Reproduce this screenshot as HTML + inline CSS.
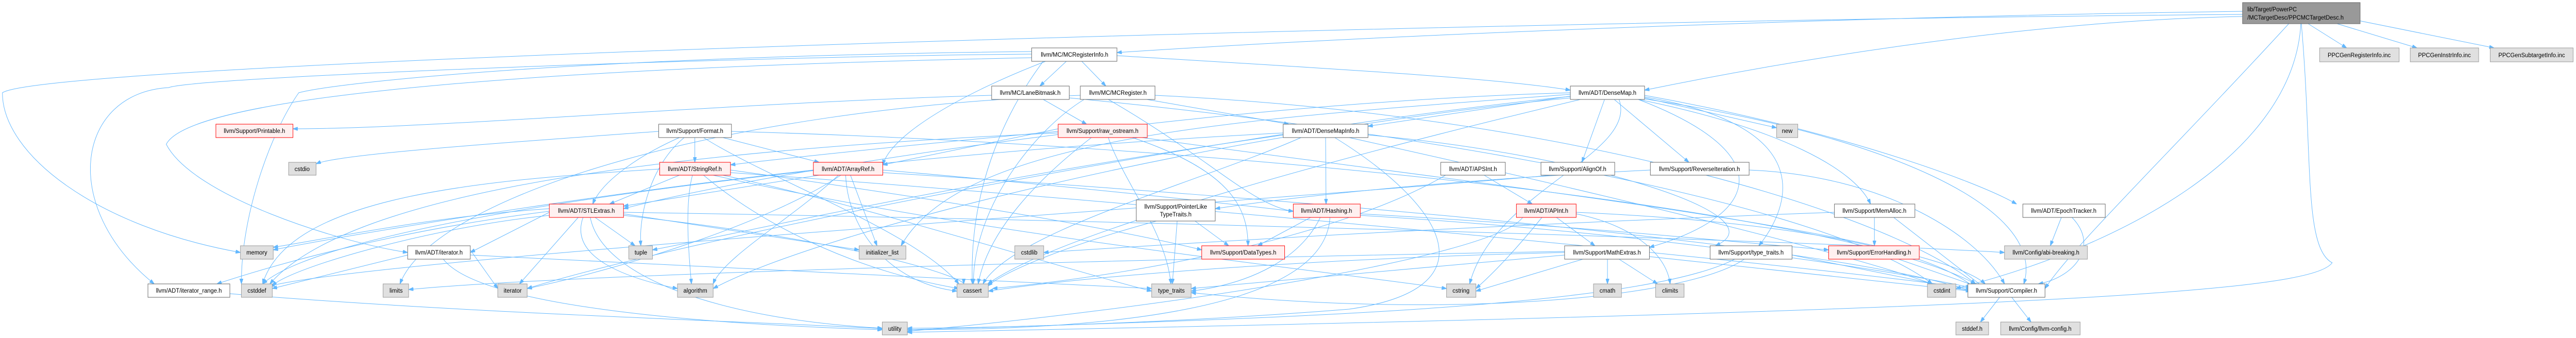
<!DOCTYPE html>
<html><head><meta charset="utf-8"><style>
html,body{margin:0;padding:0;background:#fff;overflow:hidden;width:100%;height:100%;}
svg{display:block;width:100vw;height:100vh;}
text{font-family:"Liberation Sans",Arial,sans-serif;font-size:12px;fill:#000;}
.e{fill:none;stroke:#63b8ff;stroke-width:1;}
.w{fill:#fff;stroke:#666;stroke-width:1;}
.g{fill:#e0e0e0;stroke:#999;stroke-width:1;}
.r{fill:#fff0f0;stroke:#ff0000;stroke-width:1;}
.k{fill:#999;stroke:#666;stroke-width:1;}
</style></head><body>
<svg viewBox="0 0 5346 656" preserveAspectRatio="none" xmlns="http://www.w3.org/2000/svg">
<defs><marker id="a" markerWidth="10" markerHeight="7" refX="10" refY="3.5" orient="auto" markerUnits="userSpaceOnUse"><path d="M0,0 L10,3.5 L0,7 z" fill="#63b8ff" stroke="#63b8ff"/></marker></defs>
<g class="e" marker-end="url(#a)">
<path d="M4790,46 L4870,93"/>
<path d="M4850,46 L5016,93"/>
<path d="M4895,40 L5176,93"/>
<path d="M4654,22 C4000,30 3000,60 2318,102"/>
<path d="M4654,32 C4200,40 3700,120 3413,175"/>
<path d="M4750,46 C4500,300 4300,480 4244,560"/>
<path d="M4775,46 C4760,300 4400,480 4059,560"/>
<path d="M4654,28 C3000,40 100,120 5,180 C5,300 200,440 499,490"/>
<path d="M4776,46 C4800,300 4780,480 4840,510 C4800,560 4400,600 1883,645"/>
<path d="M2213,119 L2158,167"/>
<path d="M2245,119 L2295,167"/>
<path d="M2318,108 C2700,130 3100,150 3259,175"/>
<path d="M2141,105 C1500,110 400,150 350,170 C160,180 120,400 320,551"/>
<path d="M2165,119 C2100,200 2010,350 2018,551"/>
<path d="M2170,119 C2000,180 1850,260 1832,320"/>
<path d="M2141,112 C1200,130 400,180 345,280 C400,380 700,470 846,490"/>
<path d="M2141,100 C1200,110 700,160 620,180 C560,260 500,420 501,551"/>
<path d="M2165,193 L2255,241"/>
<path d="M2219,190 C3000,260 3800,400 4010,551"/>
<path d="M2058,185 C1500,200 900,250 608,250"/>
<path d="M2380,193 L2675,241"/>
<path d="M2300,193 C2500,300 2600,400 2684,410"/>
<path d="M2250,193 C2150,250 2020,400 2020,551"/>
<path d="M2242,185 C1500,210 900,380 830,551"/>
<path d="M2397,185 C3200,220 3900,400 4100,551"/>
<path d="M2350,267 C2550,330 2590,400 2590,477"/>
<path d="M2300,267 C2330,350 2420,450 2430,551"/>
<path d="M2265,267 C2150,350 2050,450 2030,551"/>
<path d="M2196,255 C1900,280 1600,310 1516,320"/>
<path d="M2196,250 L1832,320"/>
<path d="M2370,267 C3000,350 4000,450 4120,551"/>
<path d="M2196,258 C1200,300 700,400 560,551"/>
<path d="M1442,267 L1442,315"/>
<path d="M1500,267 L1700,315"/>
<path d="M1410,267 C1330,300 1250,350 1230,396"/>
<path d="M1420,267 C1350,320 1325,420 1330,477"/>
<path d="M1460,267 C1600,350 1900,450 1990,551"/>
<path d="M1367,255 C1000,280 700,300 656,318"/>
<path d="M1518,255 C2500,280 3800,400 4100,551"/>
<path d="M2751,267 L2752,396"/>
<path d="M2700,267 C2500,350 2100,450 2040,551"/>
<path d="M2663,258 C1800,300 700,420 545,551"/>
<path d="M2800,267 C3200,350 3800,480 4010,551"/>
<path d="M2663,262 C2000,350 1500,460 1354,485"/>
<path d="M2770,267 C3000,400 3100,560 2800,600 C2400,630 2000,637 1883,637"/>
<path d="M2839,262 C3300,300 3700,420 3560,477"/>
<path d="M3270,185 L2839,245"/>
<path d="M3330,193 L3283,315"/>
<path d="M3350,193 L3505,315"/>
<path d="M3413,190 L3687,248"/>
<path d="M3413,185 C3800,250 4100,350 4185,396"/>
<path d="M3400,193 C3700,250 3850,330 3882,396"/>
<path d="M3400,193 C3700,300 3650,420 3423,480"/>
<path d="M3413,188 C3800,250 3700,420 3650,477"/>
<path d="M3259,180 C2500,200 1600,330 1294,405"/>
<path d="M3280,193 C2800,300 2200,450 2050,551"/>
<path d="M3360,193 C3400,300 3100,370 3050,551"/>
<path d="M3259,190 C2500,260 1700,450 1480,560"/>
<path d="M3413,192 C3900,260 4250,400 4200,551"/>
<path d="M3259,187 C2500,260 1400,470 1094,560"/>
<path d="M3259,183 C2600,230 2000,260 1870,477"/>
<path d="M3080,340 L3180,396"/>
<path d="M3000,340 C2800,450 2400,530 2060,560"/>
<path d="M3220,340 C2500,400 800,500 560,555"/>
<path d="M3425,330 C3000,350 2700,380 2522,405"/>
<path d="M3630,330 C3900,340 4100,450 4160,551"/>
<path d="M1410,340 L1265,396"/>
<path d="M1437,340 C1420,400 1430,500 1435,551"/>
<path d="M1460,340 C1600,450 1800,530 1990,560"/>
<path d="M1369,328 C1000,350 600,380 545,551"/>
<path d="M1480,340 C2000,450 2700,520 3002,560"/>
<path d="M1500,340 C1800,400 2200,520 2390,565"/>
<path d="M1516,330 C1900,380 2300,440 2494,485"/>
<path d="M1516,335 C2500,400 3800,520 4090,560"/>
<path d="M1700,340 L1294,400"/>
<path d="M1832,330 C2200,360 2500,390 2684,410"/>
<path d="M1765,340 L1820,477"/>
<path d="M1740,340 C1650,420 1500,500 1480,551"/>
<path d="M1755,340 C1760,450 1850,550 1986,565"/>
<path d="M1745,340 C1600,430 1300,520 1094,560"/>
<path d="M1688,330 C1200,380 700,460 567,485"/>
<path d="M1832,335 C2600,380 3800,470 4090,565"/>
<path d="M1235,422 L1318,477"/>
<path d="M1200,422 L1078,551"/>
<path d="M1210,422 C1180,500 1300,540 1406,560"/>
<path d="M1140,410 C800,450 550,520 450,551"/>
<path d="M1140,412 L976,490"/>
<path d="M1294,415 L1783,485"/>
<path d="M1140,405 C900,420 700,460 567,480"/>
<path d="M1225,422 C1250,540 1500,620 1831,637"/>
<path d="M1294,412 C2500,430 3800,470 4160,490"/>
<path d="M1294,418 C1800,470 2000,540 2000,551"/>
<path d="M1140,418 C900,440 600,520 565,555"/>
<path d="M976,485 L1033,560"/>
<path d="M846,495 L565,560"/>
<path d="M920,503 C1000,600 1500,630 1831,640"/>
<path d="M976,495 C1600,520 2200,550 2390,560"/>
<path d="M477,570 C1000,610 1600,625 1831,638"/>
<path d="M2480,429 L2550,477"/>
<path d="M2443,429 L2433,551"/>
<path d="M2400,429 C2200,480 2080,530 2050,555"/>
<path d="M2720,422 L2610,477"/>
<path d="M2740,422 C2700,500 2600,550 2472,565"/>
<path d="M2760,422 C2750,600 2300,640 1883,640"/>
<path d="M2823,415 C3300,440 3600,470 3795,485"/>
<path d="M2823,418 C3400,450 3900,520 4090,558"/>
<path d="M3230,422 L3310,477"/>
<path d="M3271,415 C3400,440 3460,500 3466,551"/>
<path d="M3200,422 C3150,480 3100,530 3063,560"/>
<path d="M3271,412 C3700,430 4000,480 4100,560"/>
<path d="M3160,422 C3100,500 2400,600 1883,643"/>
<path d="M3890,422 L3890,477"/>
<path d="M3930,422 L4120,560"/>
<path d="M3807,412 C3000,440 2500,470 2166,490"/>
<path d="M3336,503 L3336,551"/>
<path d="M3360,503 L3440,551"/>
<path d="M3285,503 L3063,565"/>
<path d="M3247,490 C2800,500 2300,530 2051,565"/>
<path d="M3247,495 L2472,560"/>
<path d="M3247,488 C2500,500 1200,530 848,562"/>
<path d="M3423,498 L4090,565"/>
<path d="M3620,503 C3500,580 3000,620 2472,568"/>
<path d="M3600,503 C3400,600 2600,620 1883,640"/>
<path d="M3719,495 L4090,565"/>
<path d="M3940,503 L4100,555"/>
<path d="M4278,422 L4255,477"/>
<path d="M4300,422 C4360,480 4300,540 4230,551"/>
<path d="M4150,577 L4110,625"/>
<path d="M4175,577 L4215,625"/>
</g>
<g>
<rect class="k" x="4654" y="5" width="244" height="41"/><text x="4664" y="22">lib/Target/PowerPC</text><text x="4664" y="38">/MCTargetDesc/PPCMCTargetDesc.h</text>
<rect class="g" x="4814" y="93" width="165" height="27"/><text x="4896" y="111" text-anchor="middle">PPCGenRegisterInfo.inc</text>
<rect class="g" x="5002" y="93" width="142" height="27"/><text x="5073" y="111" text-anchor="middle">PPCGenInstrInfo.inc</text>
<rect class="g" x="5168" y="93" width="172" height="27"/><text x="5254" y="111" text-anchor="middle">PPCGenSubtargetInfo.inc</text>
<rect class="w" x="2141" y="93" width="177" height="26"/><text x="2230" y="110" text-anchor="middle">llvm/MC/MCRegisterInfo.h</text>
<rect class="w" x="2058" y="167" width="161" height="26"/><text x="2138" y="184" text-anchor="middle">llvm/MC/LaneBitmask.h</text>
<rect class="w" x="2242" y="167" width="155" height="26"/><text x="2320" y="184" text-anchor="middle">llvm/MC/MCRegister.h</text>
<rect class="w" x="3259" y="167" width="154" height="26"/><text x="3336" y="184" text-anchor="middle">llvm/ADT/DenseMap.h</text>
<rect class="r" x="448" y="241" width="160" height="26"/><text x="528" y="258" text-anchor="middle">llvm/Support/Printable.h</text>
<rect class="w" x="1367" y="241" width="151" height="26"/><text x="1442" y="258" text-anchor="middle">llvm/Support/Format.h</text>
<rect class="r" x="2196" y="241" width="185" height="26"/><text x="2288" y="258" text-anchor="middle">llvm/Support/raw_ostream.h</text>
<rect class="w" x="2663" y="241" width="176" height="26"/><text x="2751" y="258" text-anchor="middle">llvm/ADT/DenseMapInfo.h</text>
<rect class="g" x="3687" y="241" width="44" height="26"/><text x="3709" y="258" text-anchor="middle">new</text>
<rect class="g" x="599" y="315" width="57" height="25"/><text x="627" y="332" text-anchor="middle">cstdio</text>
<rect class="r" x="1369" y="315" width="147" height="25"/><text x="1442" y="332" text-anchor="middle">llvm/ADT/StringRef.h</text>
<rect class="r" x="1688" y="315" width="144" height="25"/><text x="1760" y="332" text-anchor="middle">llvm/ADT/ArrayRef.h</text>
<rect class="w" x="2990" y="315" width="134" height="25"/><text x="3057" y="332" text-anchor="middle">llvm/ADT/APSInt.h</text>
<rect class="w" x="3198" y="315" width="153" height="25"/><text x="3274" y="332" text-anchor="middle">llvm/Support/AlignOf.h</text>
<rect class="w" x="3425" y="315" width="205" height="25"/><text x="3527" y="332" text-anchor="middle">llvm/Support/ReverseIteration.h</text>
<rect class="r" x="1140" y="396" width="154" height="26"/><text x="1217" y="413" text-anchor="middle">llvm/ADT/STLExtras.h</text>
<rect class="w" x="2358" y="388" width="164" height="41"/><text x="2440" y="405" text-anchor="middle">llvm/Support/PointerLike</text><text x="2440" y="420" text-anchor="middle">TypeTraits.h</text>
<rect class="r" x="2684" y="396" width="139" height="26"/><text x="2753" y="413" text-anchor="middle">llvm/ADT/Hashing.h</text>
<rect class="r" x="3147" y="396" width="124" height="26"/><text x="3209" y="413" text-anchor="middle">llvm/ADT/APInt.h</text>
<rect class="w" x="3807" y="396" width="167" height="26"/><text x="3890" y="413" text-anchor="middle">llvm/Support/MemAlloc.h</text>
<rect class="w" x="4198" y="396" width="171" height="26"/><text x="4283" y="413" text-anchor="middle">llvm/ADT/EpochTracker.h</text>
<rect class="g" x="499" y="477" width="68" height="26"/><text x="533" y="494" text-anchor="middle">memory</text>
<rect class="w" x="846" y="477" width="130" height="26"/><text x="911" y="494" text-anchor="middle">llvm/ADT/iterator.h</text>
<rect class="g" x="1305" y="477" width="49" height="26"/><text x="1330" y="494" text-anchor="middle">tuple</text>
<rect class="g" x="1783" y="477" width="97" height="26"/><text x="1831" y="494" text-anchor="middle">initializer_list</text>
<rect class="g" x="2106" y="477" width="60" height="26"/><text x="2136" y="494" text-anchor="middle">cstdlib</text>
<rect class="r" x="2494" y="477" width="172" height="26"/><text x="2580" y="494" text-anchor="middle">llvm/Support/DataTypes.h</text>
<rect class="w" x="3247" y="477" width="176" height="26"/><text x="3335" y="494" text-anchor="middle">llvm/Support/MathExtras.h</text>
<rect class="w" x="3549" y="477" width="170" height="26"/><text x="3634" y="494" text-anchor="middle">llvm/Support/type_traits.h</text>
<rect class="r" x="3795" y="477" width="188" height="26"/><text x="3889" y="494" text-anchor="middle">llvm/Support/ErrorHandling.h</text>
<rect class="g" x="4160" y="477" width="172" height="26"/><text x="4246" y="494" text-anchor="middle">llvm/Config/abi-breaking.h</text>
<rect class="w" x="307" y="551" width="170" height="26"/><text x="392" y="568" text-anchor="middle">llvm/ADT/iterator_range.h</text>
<rect class="g" x="501" y="551" width="64" height="26"/><text x="533" y="568" text-anchor="middle">cstddef</text>
<rect class="g" x="795" y="551" width="53" height="26"/><text x="822" y="568" text-anchor="middle">limits</text>
<rect class="g" x="1033" y="551" width="61" height="26"/><text x="1064" y="568" text-anchor="middle">iterator</text>
<rect class="g" x="1406" y="551" width="74" height="26"/><text x="1443" y="568" text-anchor="middle">algorithm</text>
<rect class="g" x="1986" y="551" width="65" height="26"/><text x="2018" y="568" text-anchor="middle">cassert</text>
<rect class="g" x="2390" y="551" width="82" height="26"/><text x="2431" y="568" text-anchor="middle">type_traits</text>
<rect class="g" x="3002" y="551" width="61" height="26"/><text x="3032" y="568" text-anchor="middle">cstring</text>
<rect class="g" x="3307" y="551" width="58" height="26"/><text x="3336" y="568" text-anchor="middle">cmath</text>
<rect class="g" x="3436" y="551" width="59" height="26"/><text x="3466" y="568" text-anchor="middle">climits</text>
<rect class="g" x="4000" y="551" width="59" height="26"/><text x="4030" y="568" text-anchor="middle">cstdint</text>
<rect class="w" x="4084" y="551" width="160" height="26"/><text x="4164" y="568" text-anchor="middle">llvm/Support/Compiler.h</text>
<rect class="g" x="1831" y="625" width="52" height="25"/><text x="1857" y="642" text-anchor="middle">utility</text>
<rect class="g" x="4059" y="625" width="68" height="25"/><text x="4093" y="642" text-anchor="middle">stddef.h</text>
<rect class="g" x="4152" y="625" width="165" height="25"/><text x="4234" y="642" text-anchor="middle">llvm/Config/llvm-config.h</text>
</g>
</svg>
</body></html>
